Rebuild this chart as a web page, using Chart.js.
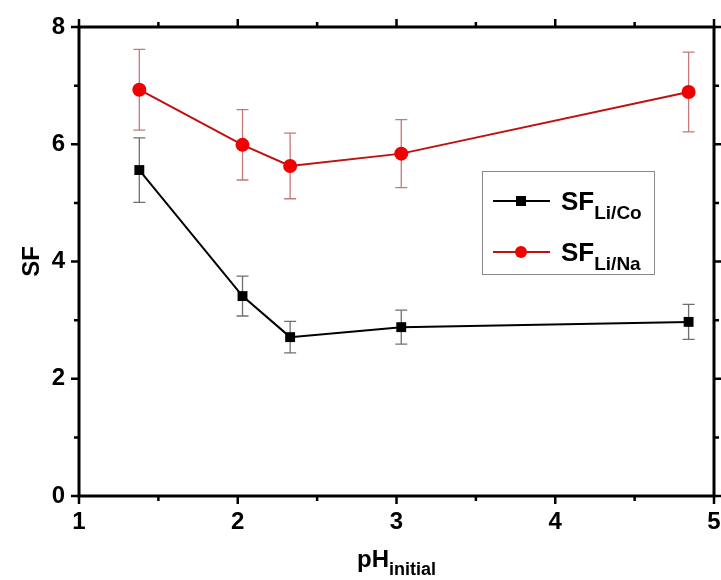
<!DOCTYPE html>
<html>
<head>
<meta charset="utf-8">
<script src="https://cdn.jsdelivr.net/npm/chart.js@4"></script>
<style>
    html, body { margin: 0; padding: 0; background: #ffffff; }
    #wrap { width: 721px; height: 580px; }
</style>
</head>
<body>
<div id="wrap"><canvas id="chart"></canvas></div>
<script>
// pH values (shared by both series)
const phInitial = [1.38, 2.03, 2.33, 3.03, 4.84];

// SF Li/Co
const sfLiCo = [5.56, 3.41, 2.71, 2.88, 2.97];
const errLiCo = [0.55, 0.34, 0.27, 0.29, 0.30];

// SF Li/Na
const sfLiNa = [6.93, 5.99, 5.63, 5.84, 6.89];
const errLiNa = [0.69, 0.60, 0.56, 0.58, 0.68];

const xMajorTicks = [1, 2, 3, 4, 5];
const xMinorTicks = [1.5, 2.5, 3.5, 4.5];
const yMajorTicks = [0, 2, 4, 6, 8];
const yMinorTicks = [1, 3, 5, 7];

const FONT = "'Liberation Sans', Arial, sans-serif";

function toPoints(xs, ys) {
    return xs.map((x, i) => ({ x: x, y: ys[i] }));
}

// error bars drawn from the scales
const errorBarPlugin = {
    id: "errorBars",
    beforeDatasetsDraw(chart) {
        const ctx = chart.ctx;
        const xs = chart.scales.x;
        const ys = chart.scales.y;
        const sets = [
            { ys: sfLiCo, err: errLiCo, color: "#707070" },
            { ys: sfLiNa, err: errLiNa, color: "#c47878" }
        ];
        ctx.save();
        ctx.lineWidth = 1.3;
        sets.forEach(s => {
            ctx.strokeStyle = s.color;
            phInitial.forEach((x, i) => {
                const px = xs.getPixelForValue(x);
                const top = ys.getPixelForValue(s.ys[i] + s.err[i]);
                const bot = ys.getPixelForValue(s.ys[i] - s.err[i]);
                ctx.beginPath();
                ctx.moveTo(px, top); ctx.lineTo(px, bot);
                ctx.moveTo(px - 6, top); ctx.lineTo(px + 6, top);
                ctx.moveTo(px - 6, bot); ctx.lineTo(px + 6, bot);
                ctx.stroke();
            });
        });
        ctx.restore();
    }
};

// frame, ticks, titles and legend
const framePlugin = {
    id: "frame",
    afterDraw(chart) {
        const ctx = chart.ctx;
        const a = chart.chartArea;
        const xs = chart.scales.x;
        const ys = chart.scales.y;
        ctx.save();
        ctx.strokeStyle = "#000";
        ctx.lineWidth = 3;
        ctx.strokeRect(a.left, a.top, a.right - a.left, a.bottom - a.top);

        ctx.lineWidth = 2.5;
        ctx.beginPath();
        const tickX = (v, len) => {
            const px = xs.getPixelForValue(v);
            ctx.moveTo(px, a.bottom); ctx.lineTo(px, a.bottom + len);
            ctx.moveTo(px, a.top); ctx.lineTo(px, a.top - len);
        };
        const tickY = (v, len) => {
            const py = ys.getPixelForValue(v);
            ctx.moveTo(a.left, py); ctx.lineTo(a.left - len, py);
            ctx.moveTo(a.right, py); ctx.lineTo(a.right + len, py);
        };
        xMajorTicks.forEach(v => tickX(v, 8));
        xMinorTicks.forEach(v => tickX(v, 5));
        yMajorTicks.forEach(v => tickY(v, 8));
        yMinorTicks.forEach(v => tickY(v, 5));
        ctx.stroke();

        ctx.fillStyle = "#000";
        // y title
        ctx.save();
        ctx.translate(32, (a.top + a.bottom) / 2);
        ctx.rotate(-Math.PI / 2);
        ctx.font = "bold 24px " + FONT;
        ctx.textAlign = "center";
        ctx.textBaseline = "middle";
        ctx.fillText("SF", 0, 0);
        ctx.restore();

        // x title with subscript
        ctx.textBaseline = "alphabetic";
        ctx.textAlign = "left";
        ctx.font = "bold 24px " + FONT;
        const main = "pH";
        const sub = "initial";
        const wMain = ctx.measureText(main).width;
        ctx.font = "bold 18px " + FONT;
        const wSub = ctx.measureText(sub).width;
        let sx = (a.left + a.right) / 2 - (wMain + wSub) / 2;
        ctx.font = "bold 24px " + FONT;
        ctx.fillText(main, sx, 567);
        ctx.font = "bold 18px " + FONT;
        ctx.fillText(sub, sx + wMain, 575);

        // legend
        const lx = 482, ly = 171, lw = 172, lh = 103;
        ctx.lineWidth = 1;
        ctx.strokeStyle = "#888";
        ctx.strokeRect(lx + 0.5, ly + 0.5, lw, lh);
        const items = [
            { color: "#000", dot: "#000", sub: "Li/Co", y: 201, shape: "rect" },
            { color: "#c01010", dot: "#f00000", sub: "Li/Na", y: 252, shape: "circle" }
        ];
        items.forEach(it => {
            ctx.strokeStyle = it.color;
            ctx.lineWidth = 2;
            ctx.beginPath();
            ctx.moveTo(493, it.y); ctx.lineTo(550, it.y);
            ctx.stroke();
            ctx.fillStyle = it.dot;
            if (it.shape === "rect") {
                ctx.fillRect(516, it.y - 5, 10, 10);
            } else {
                ctx.beginPath();
                ctx.arc(521, it.y, 6, 0, Math.PI * 2);
                ctx.fill();
            }
            ctx.fillStyle = "#000";
            ctx.font = "bold 26px " + FONT;
            ctx.fillText("SF", 561, it.y + 9);
            const w = ctx.measureText("SF").width;
            ctx.font = "bold 19px " + FONT;
            ctx.fillText(it.sub, 561 + w, it.y + 18);
        });
        ctx.restore();
    }
};

new Chart(document.getElementById("chart"), {
    type: "scatter",
    data: {
        datasets: [
            {
                label: "SF Li/Co",
                data: toPoints(phInitial, sfLiCo),
                showLine: true,
                borderColor: "#000000",
                backgroundColor: "#000000",
                borderWidth: 2,
                pointStyle: "rect",
                pointRadius: 7,
                pointBorderWidth: 0
            },
            {
                label: "SF Li/Na",
                data: toPoints(phInitial, sfLiNa),
                showLine: true,
                borderColor: "#c01010",
                backgroundColor: "#f00000",
                borderWidth: 2,
                pointStyle: "circle",
                pointRadius: 7,
                pointBorderWidth: 0
            }
        ]
    },
    options: {
        responsive: true,
        maintainAspectRatio: false,
        animation: false,
        layout: { padding: { top: 27, right: 6, left: 0, bottom: 0 } },
        plugins: {
            legend: { display: false },
            tooltip: { enabled: false }
        },
        scales: {
            x: {
                type: "linear",
                min: 1,
                max: 5,
                afterFit(scale) {
                    scale.height = 84;
                    scale.paddingLeft = 0;
                    scale.paddingRight = 0;
                },
                afterBuildTicks(scale) { scale.ticks = xMajorTicks.map(v => ({ value: v })); },
                grid: { display: false, drawTicks: false },
                border: { display: false },
                ticks: {
                    padding: 12,
                    color: "#000",
                    font: { family: FONT, size: 24, weight: "bold" }
                }
            },
            y: {
                type: "linear",
                min: 0,
                max: 8,
                afterFit(scale) {
                    scale.width = 79;
                    scale.paddingTop = 0;
                    scale.paddingBottom = 0;
                },
                afterBuildTicks(scale) { scale.ticks = yMajorTicks.map(v => ({ value: v })); },
                grid: { display: false, drawTicks: false },
                border: { display: false },
                ticks: {
                    padding: 14,
                    color: "#000",
                    font: { family: FONT, size: 24, weight: "bold" }
                }
            }
        }
    },
    plugins: [errorBarPlugin, framePlugin]
});
</script>
</body>
</html>
